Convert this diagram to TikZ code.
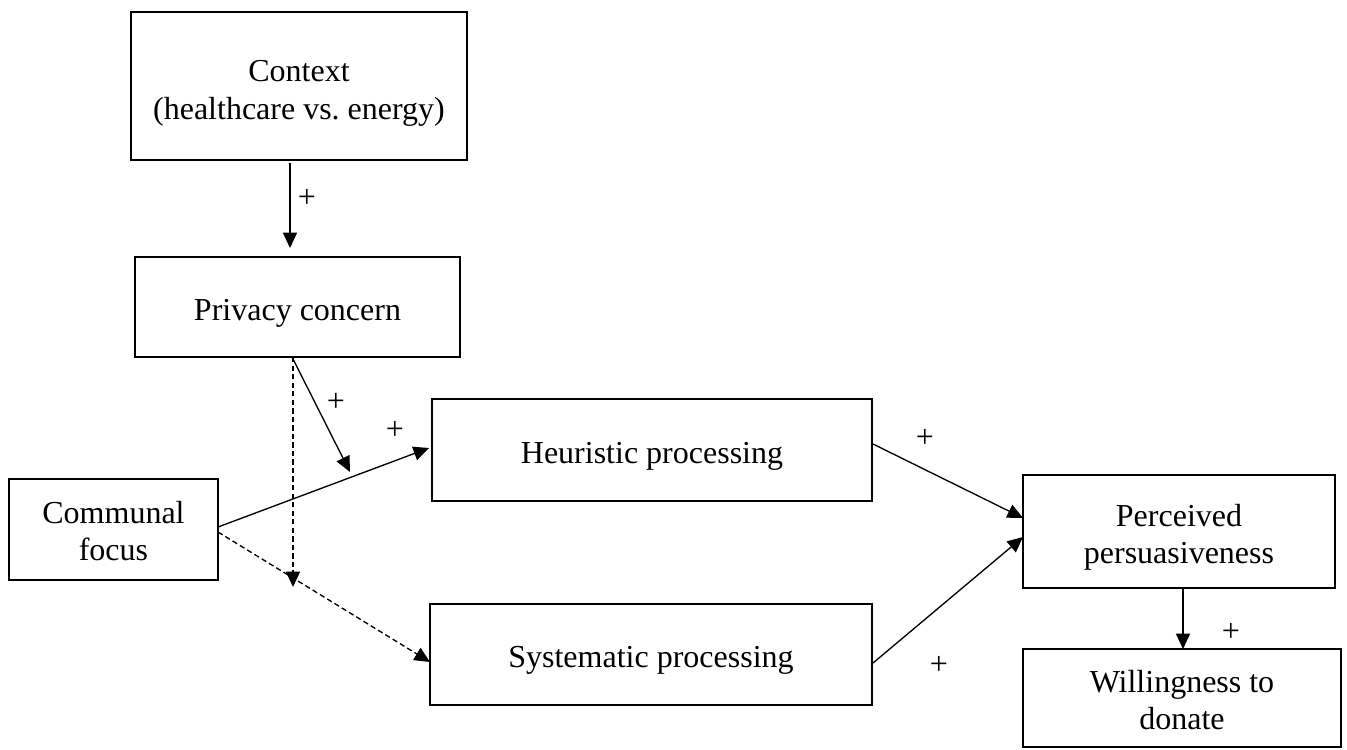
\documentclass[tikz,border=0pt]{standalone}
\usepackage{fontspec}
\setmainfont{Liberation Serif}
\usetikzlibrary{arrows.meta,calc}
\newcommand{\lowtext}[2][2.25pt]{\raisebox{-#1}[\height][\depth]{\begin{tabular}{@{}c@{}}#2\end{tabular}}}
\tikzset{
  box/.style={draw, line width=1pt, rectangle, align=center, inner sep=0pt, outer sep=0pt,
    font=\fontsize{12pt}{14pt}\selectfont},
  arr/.style={line width=0.5pt, -{Triangle[length=5.8pt,width=5.3pt]}},
  darr/.style={arr, dash pattern=on 2pt off 1.2pt},
  plus/.style={font=\fontsize{12pt}{14pt}\selectfont, inner sep=0pt}
}
\begin{document}
\begin{tikzpicture}[x=0.375pt,y=-0.375pt]
\useasboundingbox (0,0) rectangle (1347,749);
\node[box, minimum width=126pt, minimum height=55.5pt] (ctx) at (299,86) {\lowtext[2.6pt]{Context\\(healthcare vs.\ energy)}};
\node[box, minimum width=121.9pt, minimum height=37.5pt] (priv) at (297.5,307) {\lowtext{Privacy concern}};
\node[box, minimum width=78.4pt, minimum height=37.9pt] (comm) at (113.5,529.5) {\lowtext[2pt]{Communal\\focus}};
\node[box, minimum width=165pt, minimum height=38.25pt] (heur) at (652,450) {\lowtext{Heuristic processing}};
\node[box, minimum width=165.75pt, minimum height=37.9pt] (sys) at (651,654.5) {\lowtext{Systematic processing}};
\node[box, minimum width=117pt, minimum height=42.4pt] (perc) at (1179,531.5) {\lowtext{Perceived\\persuasiveness}};
\node[box, minimum width=119.25pt, minimum height=36.75pt] (will) at (1182,698) {\lowtext[2pt]{Willingness to\\donate}};

\coordinate (m1) at (350,472);
\coordinate (m2) at (293,587);

\draw[arr] ($(ctx.south)+(-9,3)$) -- ($(priv.north)+(-7.5,-9)$);
\draw[arr] ($(priv.south)+(-5.5,0)$) -- (m1);
\draw[darr] ($(priv.south)+(-4.5,0)$) -- (m2);
\draw[arr] ($(comm.east)+(0,-2.5)$) -- ($(heur.west)+(-3,-2)$);
\draw[darr] ($(comm.east)+(0,2.5)$) -- ($(sys.west)+(0,7.5)$);
\draw[arr] ($(heur.east)+(1,-6)$) -- ($(perc.west)+(0,-13.5)$);
\draw[arr] ($(sys.east)+(1,8.5)$) -- ($(perc.west)+(0,5.5)$);
\draw[arr] ($(perc.south)+(4,0)$) -- ($(will.north)+(1,0)$);

\node[plus] (p1) at (307,198) {+};
\node[plus] (p2) at (336,402) {+};
\node[plus] (p3) at (395,430) {+};
\node[plus] (p4) at (925,438) {+};
\node[plus] (p5) at (939,665) {+};
\node[plus] (p6) at (1231,632) {+};
\end{tikzpicture}
\end{document}
